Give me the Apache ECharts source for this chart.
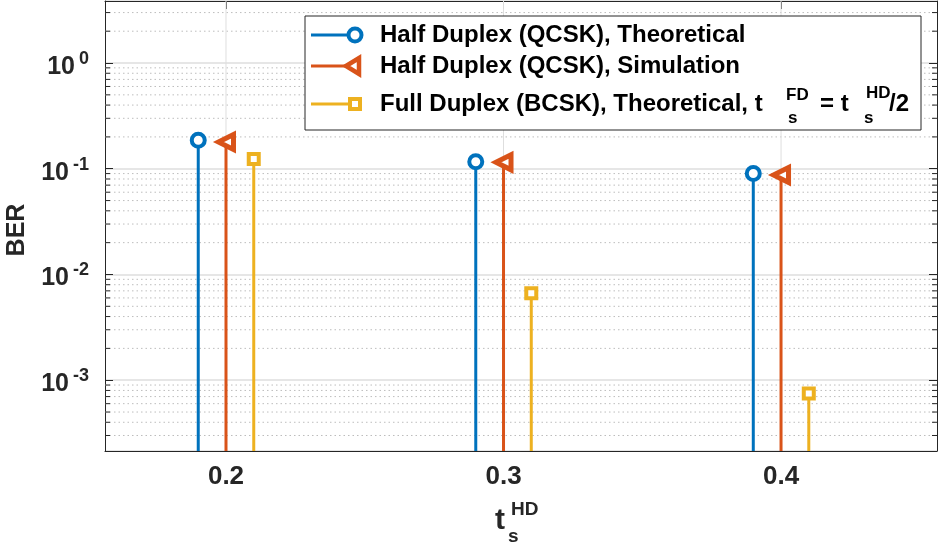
<!DOCTYPE html>
<html><head><meta charset="utf-8">
<script src="https://cdn.jsdelivr.net/npm/echarts@6/dist/echarts.min.js"></script>
<style>html,body{margin:0;padding:0;background:#fff}#c{width:938px;height:546px}</style>
</head><body><div id="c"></div>
<script>
// ---- data ----
const seriesNames = ['Half Duplex (QCSK), Theoretical', 'Half Duplex (QCSK), Simulation', 'Full Duplex (BCSK), Theoretical'];
const xHDTheory = [0.19, 0.29, 0.39];
const xHDSim = [0.2, 0.3, 0.4];
const xFDTheory = [0.21, 0.31, 0.41];
const berHDTheory = [0.186, 0.1165, 0.0902];
const berHDSim = [0.179, 0.115, 0.0872];
const berFDTheory = [0.1235, 0.00666, 0.000748];
const xTickValues = [0.2, 0.3, 0.4];
const xTickLabels = ['0.2', '0.3', '0.4'];
const yDecades = [-4, -3, -2, -1, 0];
const minorMultipliers = [2, 3, 4, 5, 6, 7, 8, 9];

// ---- layout / style ----
const X_MIN = 0.1564, X_MAX = 0.4562;
const Y_MIN = 2.14e-4, Y_MAX = 3.86;
const FONT = '"Liberation Sans", Arial, Helvetica, sans-serif';
const AX = '#262626';
const GRID = '#dedede';
const colors = ['#0072BD', '#D95319', '#EDB120'];

const minorValues = [];
yDecades.forEach(d => minorMultipliers.forEach(m => {
  const v = m * Math.pow(10, d);
  if (v > Y_MIN && v < Y_MAX) minorValues.push(v);
}));

function stemSeries(name, xs, ys, color) {
  return {
    type: 'custom', name: name + ' stem', silent: true, z: 3,
    data: xs.map((x, i) => [x, ys[i]]),
    renderItem: (params, api) => {
      const p = api.coord([api.value(0), api.value(1)]);
      const cs = params.coordSys;
      return { type: 'line', shape: { x1: p[0], y1: p[1], x2: p[0], y2: cs.y + cs.height },
        style: { stroke: color, lineWidth: 3 } };
    }
  };
}
function markerSeries(name, xs, ys, color, symbol, size, rotate, bw) {
  return {
    type: 'scatter', name, z: 4, silent: true,
    data: xs.map((x, i) => [x, ys[i]]),
    symbol, symbolSize: size, symbolRotate: rotate || 0,
    itemStyle: { color: '#fff', borderColor: color, borderWidth: bw || 3, opacity: 1 }
  };
}

const minorGrid = {
  type: 'custom', name: 'minor', silent: true, z: 1,
  data: minorValues.map(v => [X_MIN, v]),
  renderItem: (params, api) => {
    const y = api.coord([X_MIN, api.value(1)])[1];
    const cs = params.coordSys;
    return { type: 'group', children: [
      { type: 'line', shape: { x1: cs.x, y1: y, x2: cs.x + cs.width, y2: y },
        style: { stroke: '#bdbdbd', lineWidth: 1, lineDash: [1.5, 3] } },
      { type: 'line', shape: { x1: cs.x, y1: y, x2: cs.x + 5, y2: y }, style: { stroke: AX, lineWidth: 1 } },
      { type: 'line', shape: { x1: cs.x + cs.width - 5, y1: y, x2: cs.x + cs.width, y2: y }, style: { stroke: AX, lineWidth: 1 } }
    ] };
  }
};
const xGrid = {
  type: 'custom', name: 'xgrid', silent: true, z: 1,
  data: xTickValues.map(v => [v, Y_MIN]),
  renderItem: (params, api) => {
    const x = api.coord([api.value(0), Y_MIN])[0];
    const cs = params.coordSys;
    return { type: 'line', shape: { x1: x, y1: cs.y, x2: x, y2: cs.y + cs.height },
      style: { stroke: GRID, lineWidth: 1 } };
  }
};

function isDecade(v) { const e = Math.log10(v); return Math.abs(e - Math.round(e)) < 1e-6; }

const chart = echarts.init(document.getElementById('c'), null, { renderer: 'canvas' });
const legendRowsY = [35, 66, 104];
const legendText = { fontFamily: FONT, fontWeight: 'bold', fontSize: 24, fill: '#000' };
const graphic = [
  { type: 'rect', z: 100, shape: { x: 305, y: 16, width: 616, height: 114 }, style: { fill: '#fff', stroke: AX, lineWidth: 1 } },
];
legendRowsY.forEach((y, i) => {
  graphic.push({ type: 'line', z: 101, shape: { x1: 311, y1: y, x2: 355, y2: y }, style: { stroke: colors[i], lineWidth: 3 } });
});
graphic.push({ type: 'circle', z: 102, shape: { cx: 355, cy: legendRowsY[0], r: 6.5 }, style: { fill: '#fff', stroke: colors[0], lineWidth: 4 } });
graphic.push({ type: 'polygon', z: 102, shape: { points: [[346, legendRowsY[1]], [359, legendRowsY[1] - 8], [359, legendRowsY[1] + 8]] }, style: { fill: '#fff', stroke: colors[1], lineWidth: 4.5, lineJoin: 'miter' } });
graphic.push({ type: 'rect', z: 102, shape: { x: 350, y: legendRowsY[2] - 5, width: 10, height: 10 }, style: { fill: '#fff', stroke: colors[2], lineWidth: 4 } });
graphic.push({ type: 'text', z: 102, x: 380, y: legendRowsY[0], style: Object.assign({ text: seriesNames[0], verticalAlign: 'middle' }, legendText) });
graphic.push({ type: 'text', z: 102, x: 380, y: legendRowsY[1], style: Object.assign({ text: seriesNames[1], verticalAlign: 'middle' }, legendText) });
graphic.push({ type: 'text', z: 102, x: 380, y: legendRowsY[2], style: Object.assign({ text: seriesNames[2] + ', t', verticalAlign: 'middle' }, legendText) });
const small = { fontFamily: FONT, fontWeight: 'bold', fontSize: 17, fill: '#000', verticalAlign: 'middle' };
graphic.push({ type: 'text', z: 102, x: 786, y: 95, style: Object.assign({ text: 'FD' }, small) });
graphic.push({ type: 'text', z: 102, x: 788, y: 118, style: Object.assign({ text: 's' }, small) });
graphic.push({ type: 'text', z: 102, x: 820, y: legendRowsY[2], style: Object.assign({ text: '= t', verticalAlign: 'middle' }, legendText) });
graphic.push({ type: 'text', z: 102, x: 866, y: 93, style: Object.assign({ text: 'HD' }, small) });
graphic.push({ type: 'text', z: 102, x: 864, y: 118, style: Object.assign({ text: 's' }, small) });
graphic.push({ type: 'text', z: 102, x: 889, y: legendRowsY[2], style: Object.assign({ text: '/2', verticalAlign: 'middle' }, legendText) });
// axis titles
graphic.push({ type: 'text', x: 17, y: 230, rotation: Math.PI / 2, style: { text: 'BER', fontFamily: FONT, fontWeight: 'bold', fontSize: 25, fill: AX, align: 'center', verticalAlign: 'middle' } });
graphic.push({ type: 'text', x: 500, y: 521, style: { text: 't', fontFamily: FONT, fontWeight: 'bold', fontSize: 30, fill: AX, align: 'center', verticalAlign: 'middle' } });
graphic.push({ type: 'text', x: 511, y: 510, style: { text: 'HD', fontFamily: FONT, fontWeight: 'bold', fontSize: 19, fill: AX, verticalAlign: 'middle' } });
graphic.push({ type: 'text', x: 508, y: 537, style: { text: 's', fontFamily: FONT, fontWeight: 'bold', fontSize: 19, fill: AX, verticalAlign: 'middle' } });

const xAxisBase = {
  type: 'value', min: X_MIN, max: X_MAX,
  axisLine: { show: true, onZero: false, lineStyle: { color: AX, width: 1 } },
  axisTick: { show: true, inside: true, length: 8, lineStyle: { color: AX }, customValues: xTickValues },
  splitLine: { show: false }
};
const yAxisBase = {
  type: 'log', logBase: 10, min: Y_MIN, max: Y_MAX,
  axisLine: { show: true, onZero: false, lineStyle: { color: AX, width: 1 } },
  axisTick: { show: true, inside: true, length: 8, lineStyle: { color: AX } },
};

chart.setOption({
  animation: false,
  backgroundColor: '#fff',
  grid: { left: 105, right: 1, top: 1, bottom: 95, containLabel: false },
  xAxis: [
    Object.assign({}, xAxisBase, {
      position: 'bottom',
      axisLabel: { show: true, margin: 13, customValues: xTickValues,
        fontFamily: FONT, fontWeight: 'bold', fontSize: 26, color: AX,
        formatter: v => { const i = xTickValues.findIndex(t => Math.abs(t - v) < 1e-6); return i >= 0 ? xTickLabels[i] : ''; } }
    }),
    Object.assign({}, xAxisBase, { position: 'top', axisLabel: { show: false } })
  ],
  yAxis: [
    Object.assign({}, yAxisBase, {
      position: 'left',
      axisLabel: { show: true, margin: 16, showMinLabel: false, showMaxLabel: false,
        formatter: v => isDecade(v) ? '{b|10}{s|' + Math.round(Math.log10(v)) + '}' : '',
        rich: {
          b: { fontFamily: FONT, fontWeight: 'bold', fontSize: 25, color: AX, padding: [8, 0, 0, 0] },
          s: { fontFamily: FONT, fontWeight: 'bold', fontSize: 18, color: AX, padding: [0, 0, 8, 4] }
        } },
      splitLine: { show: true, lineStyle: { color: GRID, width: 1.5 } }
    }),
    Object.assign({}, yAxisBase, { position: 'right', axisLabel: { show: false }, splitLine: { show: false } })
  ],
  graphic,
  series: [
    minorGrid,
    xGrid,
    stemSeries(seriesNames[0], xHDTheory, berHDTheory, colors[0]),
    stemSeries(seriesNames[1], xHDSim, berHDSim, colors[1]),
    stemSeries(seriesNames[2], xFDTheory, berFDTheory, colors[2]),
    markerSeries(seriesNames[0], xHDTheory, berHDTheory, colors[0], 'circle', 13, 0, 4),
    markerSeries(seriesNames[1], xHDSim, berHDSim, colors[1], 'triangle', 15, 90, 5),
    markerSeries(seriesNames[2], xFDTheory, berFDTheory, colors[2], 'rect', 10, 0, 4)
  ]
});
</script>
</body></html>
